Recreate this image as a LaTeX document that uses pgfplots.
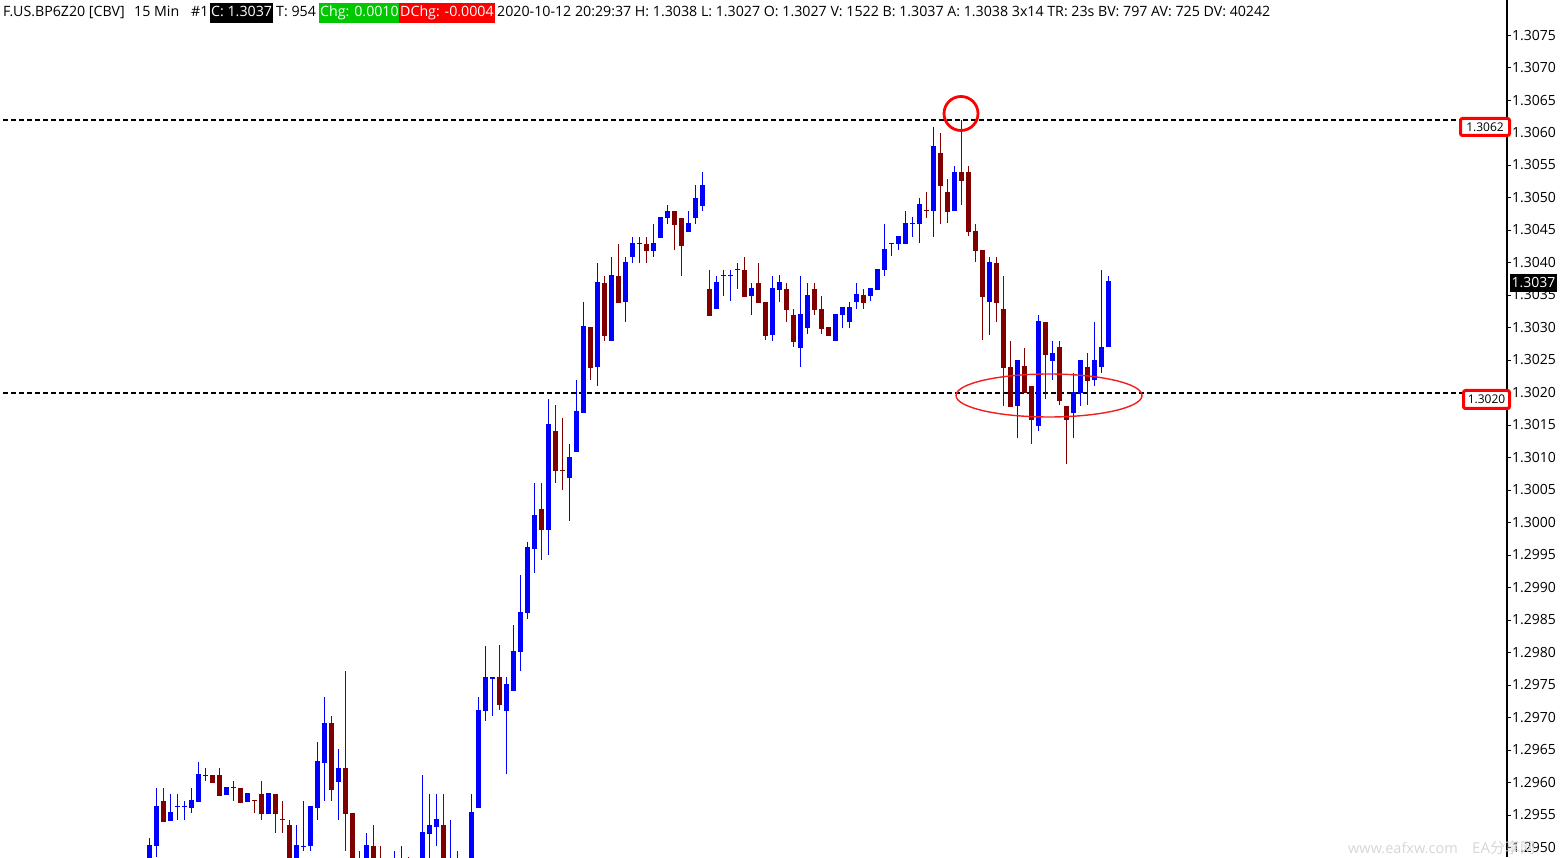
\documentclass[border=0pt]{standalone}
\usepackage{fontspec}
\setmainfont{Open Sans}
\newfontfamily\cjk{Noto Sans CJK SC}
\usepackage{pgfplots}
\pgfplotsset{compat=1.18}
\usepackage{pgfplotstable}

\definecolor{upc}{RGB}{0,0,255}
\definecolor{dnc}{RGB}{128,0,0}
\definecolor{chggreen}{RGB}{0,200,0}
\definecolor{dchgred}{RGB}{250,0,0}
\definecolor{markred}{RGB}{240,30,30}

\pgfplotsset{
  wick/.style={forget plot, draw=none, mark=none,
    error bars/y dir=both, error bars/y explicit, error bars/error mark=none,
    error bars/error bar style={draw=#1, solid, line width=1.3pt}},
  body/.style={forget plot, draw=none, mark=none,
    error bars/y dir=both, error bars/y explicit, error bars/error mark=none,
    error bars/error bar style={draw=#1, solid, line width=5pt}},
}

% 15 min bars, i = bar number; up bars (close >= open), blue
\pgfplotstableread{
i o h l c
0 1.29475 1.29514 1.29470 1.29503
1 1.29502 1.29592 1.29485 1.29563
3 1.29541 1.29583 1.29541 1.29553
4 1.29563 1.29583 1.29543 1.29563
5 1.29563 1.29572 1.29543 1.29563
6 1.29561 1.29592 1.29553 1.29572
7 1.29570 1.29632 1.29570 1.29612
8 1.29611 1.29622 1.29603 1.29611
11 1.29581 1.29592 1.29581 1.29592
12 1.29592 1.29603 1.29572 1.29592
14 1.29570 1.29583 1.29570 1.29583
17 1.29552 1.29583 1.29552 1.29583
21 1.29475 1.29534 1.29470 1.29503
22 1.29502 1.29572 1.29494 1.29502
23 1.29502 1.29563 1.29494 1.29563
24 1.29561 1.29662 1.29543 1.29632
25 1.29630 1.29731 1.29572 1.29691
27 1.29601 1.29652 1.29543 1.29622
31 1.29455 1.29523 1.29445 1.29503
35 1.29430 1.29494 1.29420 1.29470
36 1.29460 1.29503 1.29450 1.29480
39 1.29440 1.29612 1.29430 1.29523
40 1.29521 1.29583 1.29475 1.29534
41 1.29532 1.29583 1.29503 1.29543
43 1.29460 1.29543 1.29440 1.29480
45 1.29460 1.29480 1.29440 1.29470
46 1.29470 1.29583 1.29460 1.29553
47 1.29561 1.29731 1.29561 1.29711
48 1.29710 1.29810 1.29695 1.29762
49 1.29761 1.29762 1.29703 1.29761
51 1.29710 1.29762 1.29613 1.29751
52 1.29741 1.29842 1.29741 1.29802
53 1.29801 1.29920 1.29772 1.29862
54 1.29861 1.29970 1.29852 1.29961
55 1.29960 1.30061 1.29923 1.30010
57 1.29989 1.30190 1.29950 1.30150
60 1.30069 1.30121 1.30002 1.30100
61 1.30109 1.30220 1.30109 1.30170
62 1.30169 1.30340 1.30169 1.30301
64 1.30239 1.30400 1.30210 1.30369
66 1.30279 1.30409 1.30279 1.30380
68 1.30339 1.30409 1.30309 1.30400
69 1.30408 1.30440 1.30400 1.30429
70 1.30429 1.30440 1.30400 1.30429
72 1.30418 1.30459 1.30409 1.30429
73 1.30438 1.30469 1.30438 1.30469
74 1.30469 1.30489 1.30460 1.30479
77 1.30447 1.30479 1.30447 1.30460
78 1.30469 1.30519 1.30460 1.30499
79 1.30487 1.30539 1.30480 1.30519
81 1.30328 1.30380 1.30328 1.30369
82 1.30380 1.30389 1.30349 1.30380
83 1.30380 1.30389 1.30340 1.30380
84 1.30389 1.30400 1.30360 1.30389
86 1.30348 1.30369 1.30320 1.30360
89 1.30288 1.30380 1.30280 1.30360
90 1.30358 1.30380 1.30340 1.30369
93 1.30268 1.30380 1.30240 1.30320
94 1.30299 1.30369 1.30290 1.30349
98 1.30279 1.30320 1.30279 1.30320
99 1.30319 1.30330 1.30300 1.30330
100 1.30308 1.30340 1.30300 1.30330
101 1.30339 1.30369 1.30329 1.30350
103 1.30348 1.30360 1.30340 1.30360
104 1.30358 1.30389 1.30358 1.30389
105 1.30388 1.30460 1.30380 1.30420
106 1.30429 1.30429 1.30410 1.30429
107 1.30428 1.30440 1.30420 1.30440
108 1.30428 1.30480 1.30428 1.30460
109 1.30460 1.30470 1.30440 1.30460
110 1.30459 1.30500 1.30430 1.30489
112 1.30479 1.30609 1.30440 1.30579
115 1.30479 1.30549 1.30479 1.30539
120 1.30339 1.30409 1.30289 1.30400
124 1.30179 1.30249 1.30130 1.30249
127 1.30148 1.30320 1.30140 1.30309
129 1.30248 1.30280 1.30220 1.30260
132 1.30168 1.30230 1.30130 1.30200
133 1.30199 1.30249 1.30180 1.30249
135 1.30219 1.30309 1.30210 1.30249
136 1.30239 1.30389 1.30230 1.30269
137 1.30270 1.30380 1.30270 1.30370
}\upbars

% down bars (close < open), dark red
\pgfplotstableread{
i o h l c
2 1.29572 1.29592 1.29541 1.29541
9 1.29612 1.29612 1.29601 1.29601
10 1.29612 1.29622 1.29581 1.29581
13 1.29592 1.29592 1.29570 1.29570
15 1.29572 1.29572 1.29553 1.29572
16 1.29583 1.29603 1.29543 1.29552
18 1.29583 1.29583 1.29523 1.29552
19 1.29543 1.29572 1.29523 1.29543
20 1.29534 1.29543 1.29465 1.29475
26 1.29691 1.29702 1.29572 1.29590
28 1.29622 1.29771 1.29494 1.29552
29 1.29553 1.29553 1.29455 1.29465
30 1.29470 1.29494 1.29440 1.29450
32 1.29503 1.29534 1.29460 1.29470
33 1.29475 1.29503 1.29440 1.29450
34 1.29450 1.29470 1.29420 1.29430
37 1.29480 1.29485 1.29440 1.29450
38 1.29450 1.29470 1.29410 1.29430
42 1.29534 1.29583 1.29450 1.29470
44 1.29480 1.29494 1.29440 1.29460
50 1.29762 1.29811 1.29711 1.29721
56 1.30021 1.30061 1.29942 1.29989
58 1.30141 1.30181 1.30061 1.30081
59 1.30081 1.30161 1.30050 1.30080
63 1.30301 1.30301 1.30220 1.30239
65 1.30369 1.30380 1.30280 1.30288
67 1.30380 1.30429 1.30339 1.30339
71 1.30429 1.30440 1.30400 1.30418
75 1.30479 1.30479 1.30420 1.30458
76 1.30469 1.30469 1.30380 1.30427
80 1.30360 1.30389 1.30319 1.30319
85 1.30389 1.30409 1.30348 1.30348
87 1.30369 1.30400 1.30339 1.30339
88 1.30340 1.30340 1.30281 1.30288
91 1.30360 1.30369 1.30309 1.30328
92 1.30320 1.30329 1.30270 1.30279
95 1.30360 1.30369 1.30320 1.30328
96 1.30329 1.30349 1.30290 1.30299
97 1.30300 1.30300 1.30288 1.30288
102 1.30350 1.30360 1.30329 1.30339
111 1.30480 1.30509 1.30469 1.30480
113 1.30569 1.30599 1.30460 1.30518
114 1.30509 1.30529 1.30460 1.30479
116 1.30539 1.30620 1.30489 1.30527
117 1.30539 1.30549 1.30440 1.30448
118 1.30449 1.30459 1.30400 1.30418
119 1.30420 1.30420 1.30280 1.30348
121 1.30400 1.30409 1.30309 1.30339
122 1.30329 1.30380 1.30180 1.30239
123 1.30240 1.30280 1.30179 1.30179
125 1.30240 1.30269 1.30200 1.30200
126 1.30210 1.30210 1.30121 1.30159
128 1.30309 1.30309 1.30190 1.30259
130 1.30270 1.30280 1.30180 1.30188
131 1.30180 1.30180 1.30090 1.30159
134 1.30240 1.30260 1.30180 1.30219
}\downbars

\begin{document}
\begin{tikzpicture}[x=1pt, y=1pt]
\path[use as bounding box] (0,0) rectangle (1561,857);

\begin{axis}[
  at={(0,0)}, anchor=south west,
  scale only axis, width=1507pt, height=857pt,
  xmin=-21.329, xmax=193.957,
  ymin=1.294854, ymax=1.308039,
  axis x line=none,
  axis y line=right,
  y axis line style={-, black, line width=1.2pt},
  ytick={1.2950,1.2955,1.2960,1.2965,1.2970,1.2975,1.2980,1.2985,1.2990,1.2995,1.3000,1.3005,1.3010,1.3015,1.3020,1.3025,1.3030,1.3035,1.3040,1.3045,1.3050,1.3055,1.3060,1.3065,1.3070,1.3075},
  scaled y ticks=false,
  tick align=outside, major tick length=4pt,
  tick style={black, line width=1pt},
  yticklabel style={anchor=west, inner sep=0pt, xshift=1pt,
    font=\fontsize{14}{16}\selectfont,
    /pgf/number format/fixed, /pgf/number format/fixed zerofill,
    /pgf/number format/precision=4,
    /pgf/number format/assume math mode=true},
]

% support / resistance lines
\addplot[black, line width=2pt, dash pattern=on 5pt off 3pt, forget plot]
  coordinates {(-30,1.3062) (200,1.3062)};
\addplot[black, line width=2pt, dash pattern=on 5pt off 3pt, forget plot]
  coordinates {(-30,1.3020) (200,1.3020)};

% wicks
\addplot[wick=upc] table[x=i,
  y expr={0.5*(\thisrow{h}+\thisrow{l})},
  y error expr={0.5*(\thisrow{h}-\thisrow{l})}] {\upbars};
\addplot[wick=dnc] table[x=i,
  y expr={0.5*(\thisrow{h}+\thisrow{l})},
  y error expr={0.5*(\thisrow{h}-\thisrow{l})}] {\downbars};

% bodies
\addplot[body=upc] table[x=i,
  y expr={0.5*(\thisrow{o}+\thisrow{c})},
  y error expr={0.5*abs(\thisrow{o}-\thisrow{c})}] {\upbars};
\addplot[body=dnc] table[x=i,
  y expr={0.5*(\thisrow{o}+\thisrow{c})},
  y error expr={0.5*abs(\thisrow{o}-\thisrow{c})}] {\downbars};

% close ticks so that doji bars show
\addplot[only marks, mark=-, mark size=2.5pt, forget plot,
  mark options={draw=upc, line width=1.3pt}] table[x=i, y=c] {\upbars};
\addplot[only marks, mark=-, mark size=2.5pt, forget plot,
  mark options={draw=dnc, line width=1.3pt}] table[x=i, y=c] {\downbars};
\end{axis}

% header line
\tikzset{hd/.style={anchor=west, inner xsep=0pt, inner ysep=3.5pt,
  text height=10pt, text depth=3pt, font=\fontsize{14.2}{16}\selectfont}}
\node[hd] at (3,844) {F.US.BP6Z20 [CBV]};
\node[hd] at (134,844) {15 Min};
\node[hd] at (191,844) {\#1};
\node[hd, fill=black, text=white, inner xsep=1pt] at (210,844) {C: 1.3037};
\node[hd] at (276,844) {T: 954};
\node[hd, fill=chggreen, text=white, inner xsep=1pt] at (319,844) {Chg: 0.0010};
\node[hd, fill=dchgred, text=white, inner xsep=1pt] at (399,844) {DChg: -0.0004};
\node[hd] at (497,844) {2020-10-12 20:29:37 H: 1.3038 L: 1.3027 O: 1.3027 V: 1522 B: 1.3037 A: 1.3038 3x14 TR: 23s BV: 797 AV: 725 DV: 40242};

% price labels on the scale
\draw[red, line width=3pt, fill=white, rounded corners=2pt] (1460.5,721.5) rectangle (1509.5,738.5);
\node[font=\fontsize{12}{14}\selectfont] at (1485,730) {1.3062};
\draw[red, line width=3pt, fill=white, rounded corners=2pt] (1463.5,448.5) rectangle (1509.5,466.5);
\node[font=\fontsize{12}{14}\selectfont] at (1486.5,457.5) {1.3020};
\fill[black] (1510,565) rectangle (1557,583);
\node[text=white, font=\fontsize{14}{16}\selectfont] at (1533.5,574) {1.3037};

% annotations
\draw[red, line width=2.8pt] (961,743.5) circle (17);
\draw[markred, line width=1.4pt] (1049,461.5) ellipse (93 and 21.5);

% watermark
\node[anchor=west, inner sep=0pt, text=black!16, font=\fontsize{14.5}{16}\selectfont] at (1348,9) {www.eafxw.com};
\node[anchor=west, inner sep=0pt, text=black!16, font=\fontsize{15}{16}\selectfont] at (1472,9) {EA{\cjk 分享网}};
\end{tikzpicture}
\end{document}
